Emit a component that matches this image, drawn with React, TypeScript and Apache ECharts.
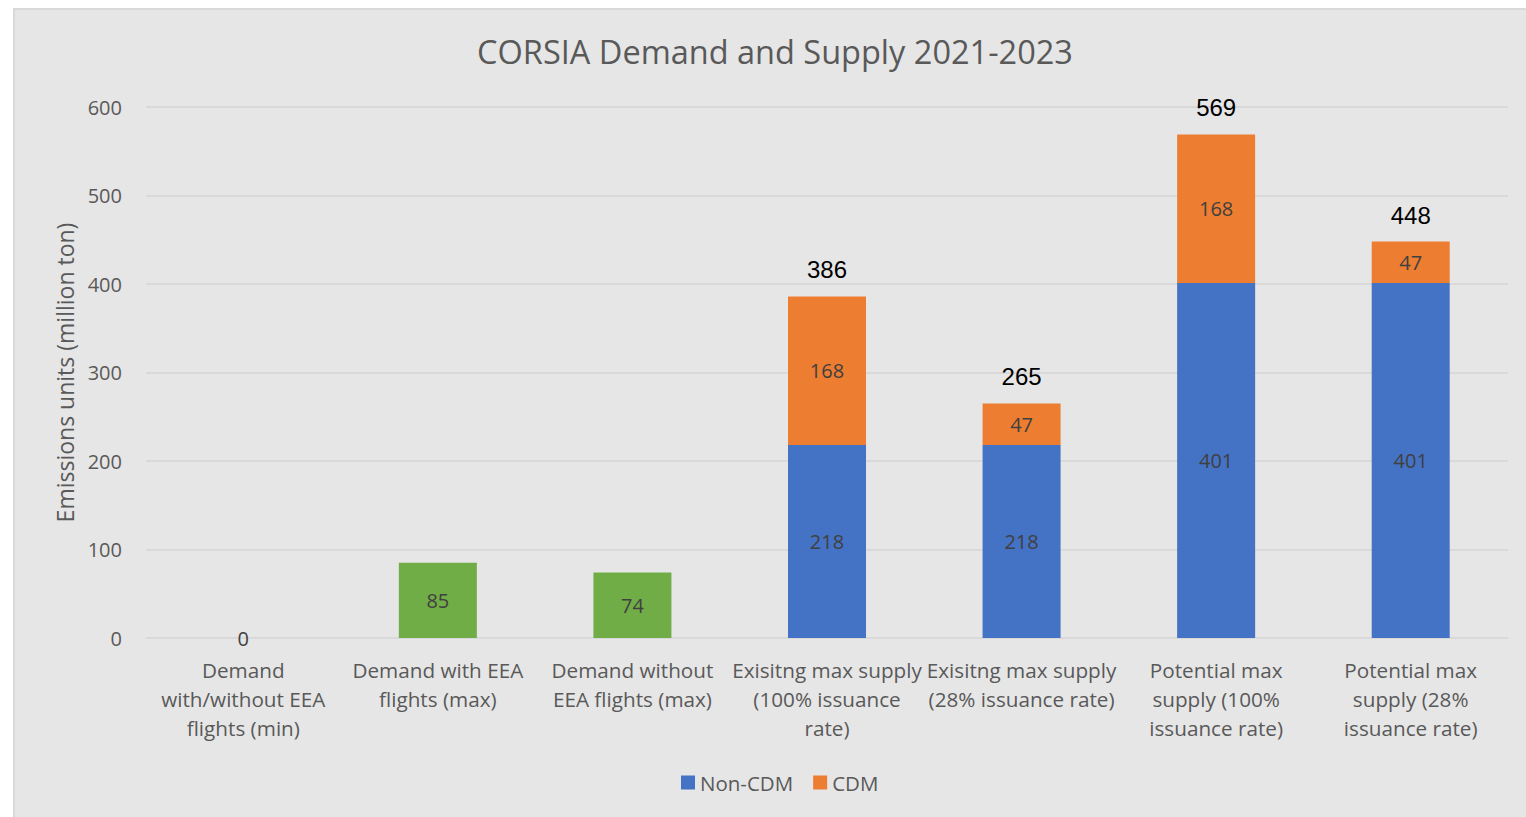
import React, { useEffect, useRef } from "react";
import * as echarts from "echarts";

const categories = [
  "Demand\nwith/without EEA\nflights (min)",
  "Demand with EEA\nflights (max)",
  "Demand without\nEEA flights (max)",
  "Exisitng max supply\n(100% issuance\nrate)",
  "Exisitng max supply\n(28% issuance rate)",
  "Potential max\nsupply (100%\nissuance rate)",
  "Potential max\nsupply (28%\nissuance rate)",
];
const demand = [0, 85, 74, null, null, null, null];
const nonCdm = [null, null, null, 218, 218, 401, 401];
const cdm = [null, null, null, 168, 47, 168, 47];
const totals = [null, null, null, 386, 265, 569, 448];
const yTicks = { min: 0, max: 600, interval: 100 };

const FONT = "'Open Sans', 'Noto Sans', sans-serif";
const GRAY = "#595959";
const LABEL_GRAY = "#404040";

export default function App() {
  const ref = useRef<HTMLDivElement>(null);
  useEffect(() => {
    if (!ref.current) return;
    const chart = echarts.init(ref.current, null, { renderer: "svg" });
    const innerLabel = {
      show: true,
      position: "inside",
      color: LABEL_GRAY,
      fontSize: 20,
      fontFamily: FONT,
    };
    chart.setOption({
      animation: false,
      backgroundColor: "transparent",
      textStyle: { fontFamily: FONT },
      title: {
        text: "CORSIA Demand and Supply 2021-2023",
        left: 770,
        top: 30,
        textAlign: "center",
        textStyle: { fontSize: 32.5, fontWeight: "normal", color: GRAY, fontFamily: FONT },
      },
      legend: {
        data: ["Non-CDM", "CDM"],
        top: 767,
        left: 676,
        itemWidth: 14,
        itemHeight: 14,
        itemGap: 20,
        icon: "rect",
        textStyle: { fontSize: 20.5, color: GRAY, fontFamily: FONT },
      },
      grid: { left: 146, right: 18, top: 107, bottom: 179 },
      xAxis: {
        type: "category",
        data: categories,
        axisLine: { show: true, lineStyle: { color: "#d9d9d9", width: 1 } },
        axisTick: { show: false },
        axisLabel: {
          color: GRAY,
          fontSize: 20.7,
          fontFamily: FONT,
          lineHeight: 29,
          interval: 0,
          margin: 17,
        },
      },
      yAxis: {
        type: "value",
        min: yTicks.min,
        max: yTicks.max,
        interval: yTicks.interval,
        name: "Emissions units (million ton)",
        nameLocation: "middle",
        nameGap: 70,
        nameTextStyle: { fontSize: 23, color: GRAY, fontFamily: FONT },
        axisLine: { show: false },
        axisTick: { show: false },
        axisLabel: { color: GRAY, fontSize: 20, fontFamily: FONT, margin: 24 },
        splitLine: { lineStyle: { color: "#d9d9d9", width: 2 } },
      },
      series: [
        {
          name: "Demand",
          type: "bar",
          stack: "total",
          barWidth: 78,
          data: demand,
          itemStyle: { color: "#70AD47" },
          label: innerLabel,
        },
        {
          name: "Non-CDM",
          type: "bar",
          stack: "total",
          barWidth: 78,
          data: nonCdm,
          itemStyle: { color: "#4472C4" },
          label: innerLabel,
        },
        {
          name: "CDM",
          type: "bar",
          stack: "total",
          barWidth: 78,
          data: cdm,
          itemStyle: { color: "#ED7D31" },
          label: innerLabel,
        },
        {
          name: "Total",
          type: "line",
          data: totals,
          symbol: "circle",
          symbolSize: 1,
          showSymbol: true,
          itemStyle: { color: "rgba(0,0,0,0)" },
          lineStyle: { opacity: 0, width: 0 },
          label: {
            show: true,
            position: "top",
            distance: 14,
            color: "#000000",
            fontSize: 24,
            fontFamily: "'Liberation Sans', Arial, sans-serif",
          },
          silent: true,
        },
      ],
    });
    return () => chart.dispose();
  }, []);
  return (
    <div
      style={{
        position: "fixed",
        left: 0,
        top: 0,
        width: 1526,
        height: 817,
        background: "#ffffff",
        overflow: "hidden",
      }}
    >
      <div
        style={{
          position: "absolute",
          left: 13,
          top: 8,
          width: 1540,
          height: 830,
          background: "#e6e6e6",
          border: "2px solid #d9d9d9",
          boxSizing: "border-box",
        }}
      />
      <div
        ref={ref}
        style={{ position: "absolute", left: 0, top: 0, width: 1526, height: 817 }}
      />
    </div>
  );
}
